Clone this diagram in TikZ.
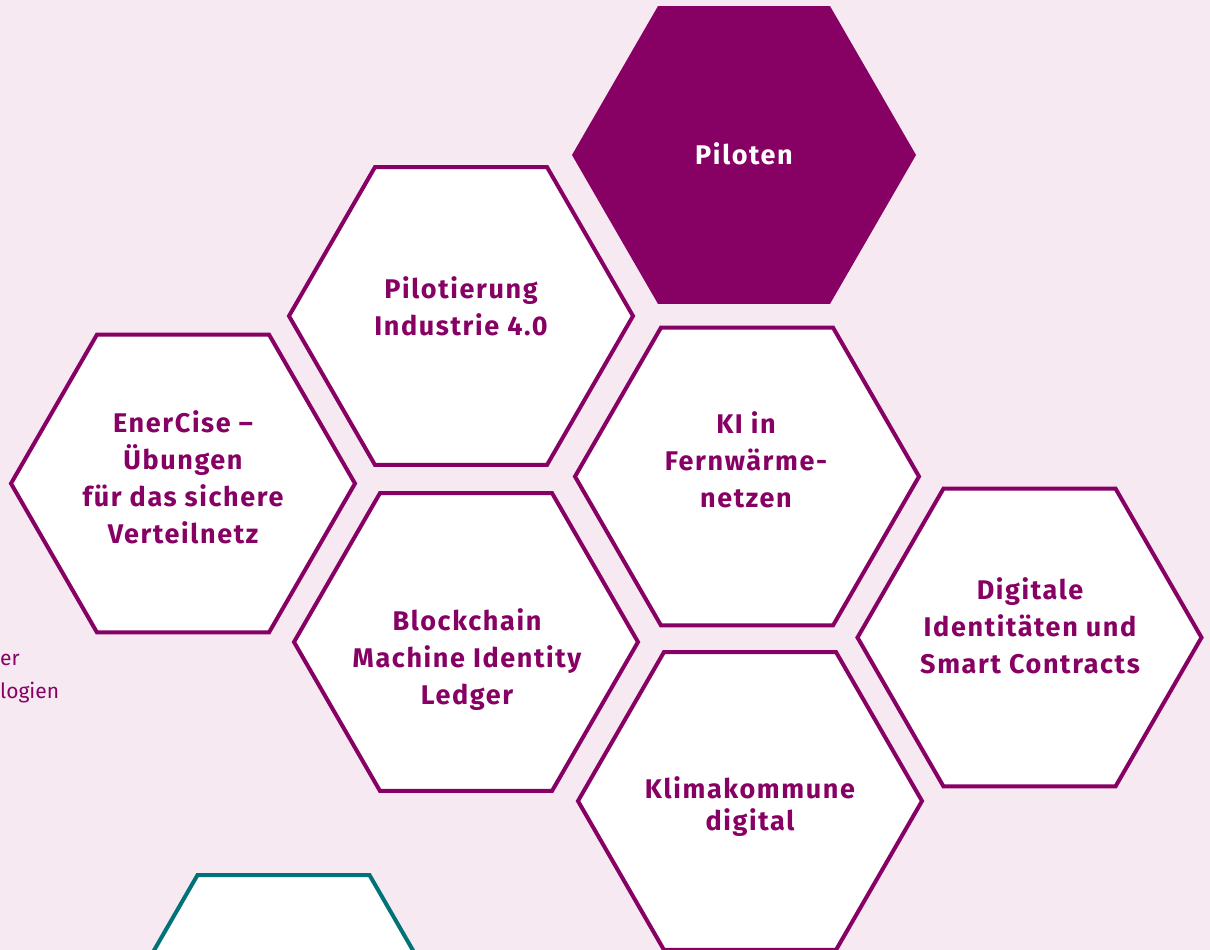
\documentclass[tikz,border=0pt]{standalone}
\usepackage{fontspec}
\setmainfont{Fira Sans}
\newfontfamily\hexfont[LetterSpace=6]{Fira Sans}
\usetikzlibrary{shapes.geometric}
\definecolor{bgpink}{HTML}{F7E9F2}
\definecolor{hexpurple}{HTML}{870064}
\definecolor{hexteal}{HTML}{007378}
\tikzset{
  hexbase/.style={regular polygon, regular polygon sides=6, shape border rotate=0,
    minimum size=344pt, inner sep=0pt, outer sep=0pt},
  hexout/.style={hexbase, draw=hexpurple, line width=4pt, fill=white},
  hexfill/.style={hexbase, fill=hexpurple},
  hexteal/.style={hexbase, draw=hexteal, line width=4pt, fill=white},
  hexlabel/.style={align=center, text=hexpurple, font=\hexfont\bfseries\fontsize{27}{37}\selectfont, inner sep=0pt},
  sidetext/.style={anchor=base west, text=hexpurple, font=\fontsize{21}{25}\selectfont, inner sep=0pt}
}
\begin{document}
\begin{tikzpicture}[x=1pt,y=-1pt]
\fill[bgpink] (0,0) rectangle (1210,950);
\useasboundingbox (0,0) rectangle (1210,950);
\begin{scope}
\clip (0,0) rectangle (1210,950);
\node[hexteal] (teal) at (283.5,1024) {};
\end{scope}
\node[hexfill] (pil) at (744,155) {};
\node[hexout] (ind) at (461,316) {};
\node[hexout] (ener) at (183,483.5) {};
\node[hexout] (ki) at (747,476.5) {};
\node[hexout] (block) at (466,642) {};
\node[hexout] (digi) at (1029.5,637.5) {};
\node[hexout] (klima) at (750,801) {};

\node[hexlabel, text=white] (tpil) at (744,153.5) {Piloten};
\node[hexlabel] (tind) at (461,306.5) {Pilotierung\\Industrie 4.0};
\node[hexlabel] (tener) at (183,477.5) {EnerCise –\\Übungen\\für das sichere\\Verteilnetz};
\node[hexlabel] (tki) at (746,459.5) {KI in\\Fernwärme-\\netzen};
\node[hexlabel] (tblock) at (467,659.5) {Blockchain\\Machine Identity\\Ledger};
\node[hexlabel] (tdigi) at (1030,625.5) {Digitale\\Identitäten und\\Smart Contracts};
\node[hexlabel, font=\hexfont\bfseries\fontsize{27}{32}\selectfont] (tklima) at (750,806.5) {Klimakommune\\digital};

\node[sidetext] (s1) at (0,665) {er};
\node[sidetext] (s2) at (0,698) {logien};
\end{tikzpicture}
\end{document}
